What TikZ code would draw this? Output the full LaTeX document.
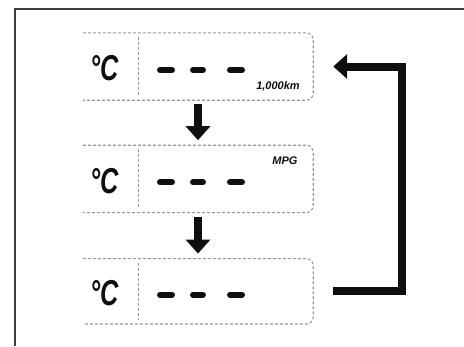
\documentclass[tikz,border=0pt]{standalone}
\usepackage{fontspec}
\setmainfont{Liberation Sans}
\usetikzlibrary{arrows.meta, positioning, calc}
\definecolor{lcdframe}{RGB}{150,150,150}
\definecolor{lcdink}{RGB}{15,15,15}
\definecolor{outerframe}{RGB}{60,60,60}
\tikzset{
  panel/.style={rectangle, minimum width=230pt, minimum height=67pt, inner sep=0pt},
  panelline/.style={densely dashed, line width=1.1pt, color=lcdframe, rounded corners=7pt},
  divider/.style={densely dashed, line width=1pt, color=lcdframe},
  degc/.style={font=\fontsize{36}{36}\selectfont\bfseries\itshape, xscale=0.7, color=lcdink, inner sep=0pt},
  seg/.style={line width=6pt, color=lcdink, line cap=round},
  unit/.style={font=\fontsize{11}{11}\selectfont\bfseries\itshape, color=lcdink, inner sep=0pt},
  flow/.style={-{Triangle[length=14pt,width=24pt]}, line width=8pt, color=lcdink}
}
\begin{document}
\begin{tikzpicture}[x=1pt, y=-1pt]
  \useasboundingbox (0,0) rectangle (464,346);
  % outer frame (right and bottom cut off)
  \draw[line width=2pt, color=outerframe] (15,346) -- (15,9) -- (464,9);
  % display panels
  \node[panel] (b1) at (198,66.5) {};
  \node[panel, below=45pt of b1] (b2) {};
  \node[panel, below=46pt of b2, minimum height=65pt] (b3) {};
  \foreach \p in {b1,b2,b3}{
    \draw[panelline] (\p.north west) -- (\p.north east) -- (\p.south east) -- (\p.south west);
    \draw[divider] ($(\p.north west)+(56,4)$) -- ($(\p.south west)+(56,-4)$);
    \node[degc] (deg-\p) at ($(\p.center)+(-93,2)$) {°C};
    \foreach \a/\b in {-38/-26, -5/5, 32/44}
      \draw[seg] ($(\p.center)+(\a,3.5)$) -- ($(\p.center)+(\b,3.5)$);
  }
  % unit labels
  \node[unit] (km) at ($(b1.center)+(80,20)$) {1,000km};
  \node[unit] (mpg) at ($(b2.center)+(87,-18)$) {MPG};
  % arrows
  \draw[flow, shorten <=4pt, shorten >=5pt] (b1.south) -- (b2.north);
  \draw[flow, shorten <=4pt, shorten >=5pt] (b2.south) -- (b3.north);
  \draw[flow, shorten <=20pt, shorten >=20pt] (b3.east) -- ++(89,0) |- (b1.east);
\end{tikzpicture}
\end{document}
